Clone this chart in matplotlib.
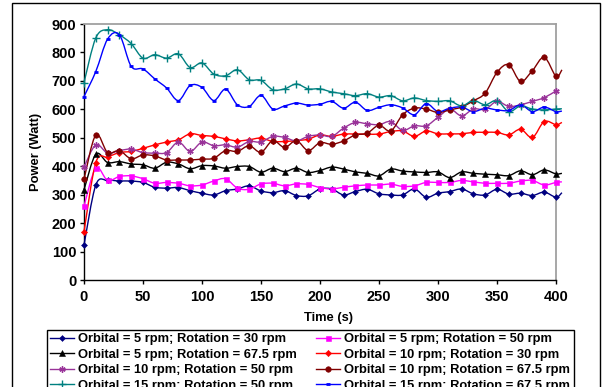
import numpy as np
import matplotlib
matplotlib.use('Agg')
import matplotlib.pyplot as plt
from matplotlib.path import Path
from matplotlib.patches import PathPatch, Rectangle
from matplotlib.lines import Line2D

plt.rcParams['font.family'] = ['Liberation Sans', 'DejaVu Sans']
plt.rcParams['font.weight'] = 'bold'

# ---------------- data ----------------
time_s = [0, 10, 20, 30, 40, 50, 60, 70, 80, 90, 100, 110, 120, 130, 140, 150, 160, 170, 180, 190,
          200, 210, 220, 230, 240, 250, 260, 270, 280, 290, 300, 310, 320, 330, 340, 350, 360, 370,
          380, 390, 400, 405]

o5_r30 = [123, 334, 350, 348, 348, 343, 326, 323, 325, 314, 305, 299, 314, 320, 331, 313, 307, 314, 297, 296,
          320, 320, 299, 311, 319, 303, 299, 299, 320, 291, 305, 311, 320, 303, 299, 319, 302, 305,
          297, 309, 291, 307]
o5_r50 = [260, 393, 350, 364, 366, 356, 340, 343, 340, 331, 334, 348, 356, 323, 319, 338, 340, 331, 338, 336,
          325, 320, 326, 331, 334, 334, 337, 329, 331, 343, 343, 343, 350, 345, 340, 340, 340, 348,
          350, 334, 343, 345]
o5_r675 = [317, 442, 413, 416, 408, 405, 393, 414, 408, 391, 402, 401, 393, 399, 399, 379, 393, 381, 393, 378,
           385, 397, 390, 380, 375, 366, 390, 383, 380, 378, 380, 360, 380, 375, 372, 370, 367, 384,
           370, 387, 373, 375]
o10_r30 = [170, 413, 432, 448, 452, 463, 475, 485, 493, 514, 508, 505, 496, 489, 493, 499, 487, 487, 490, 495,
           510, 505, 513, 513, 513, 513, 522, 524, 505, 524, 514, 514, 514, 519, 519, 519, 510, 530,
           501, 557, 546, 554]
o10_r50 = [397, 475, 446, 455, 460, 448, 446, 448, 485, 452, 485, 472, 475, 467, 487, 485, 505, 501, 489, 505,
           510, 505, 534, 554, 549, 546, 557, 526, 542, 542, 572, 601, 577, 601, 600, 628, 610, 616,
           628, 641, 665, np.nan]
o10_r675 = [354, 510, 448, 455, 426, 440, 436, 422, 422, 422, 425, 428, 455, 452, 472, 449, 490, 466, 490, 455,
            483, 477, 489, 510, 516, 544, 524, 581, 604, 601, 589, 598, 608, 630, 657, 730, 757, 698,
            736, 783, 716, 739]
o15_r50 = [694, 851, 880, 862, 831, 780, 792, 780, 795, 747, 763, 724, 718, 739, 704, 702, 669, 672, 689, 672,
           672, 661, 655, 648, 655, 643, 648, 630, 640, 631, 628, 630, 612, 631, 616, 631, 592, 612,
           601, 598, 601, 602]
o15_r675 = [645, 733, 847, 862, 751, 742, 707, 675, 631, 684, 677, 631, 671, 616, 610, 649, 601, 612, 622, 615,
            618, 628, 604, 625, 596, 607, 616, 605, 581, 620, 592, 604, 608, 592, 604, 598, 596, 616,
            592, 608, 592, 594]

labels = ["Orbital = 5 rpm; Rotation = 30 rpm", "Orbital = 5 rpm; Rotation = 50 rpm",
          "Orbital = 5 rpm; Rotation = 67.5 rpm", "Orbital = 10 rpm; Rotation = 30 rpm",
          "Orbital = 10 rpm; Rotation = 50 rpm", "Orbital = 10 rpm; Rotation = 67.5 rpm",
          "Orbital = 15 rpm; Rotation = 50 rpm", "Orbital = 15 rpm; Rotation = 67.5 rpm"]

x_ticks = [0, 50, 100, 150, 200, 250, 300, 350, 400]
y_ticks = [0, 100, 200, 300, 400, 500, 600, 700, 800, 900]

series = [o5_r30, o5_r50, o5_r675, o10_r30, o10_r50, o10_r675, o15_r50, o15_r675]
styles = [
    dict(color='#000080', marker='D', ms=3.0, mew=0.4),
    dict(color='#FF00FF', marker='s', ms=3.6, mew=0.4),
    dict(color='#000000', marker='^', ms=4.2, mew=0.4),
    dict(color='#FF0000', marker='D', ms=3.2, mew=0.4),
    dict(color='#993399', marker=(6, 2, 0), ms=4.5, mew=1.0),
    dict(color='#800000', marker='o', ms=4.0, mew=0.4),
    dict(color='#008080', marker='+', ms=6, mew=1.0),
    dict(color='#0000FF', marker='_', ms=3.0, mew=2.0),
]


def smooth_path(x, y):
    P = np.array([(a, b) for a, b in zip(x, y) if not np.isnan(b)], float)
    verts = [P[0]]
    codes = [Path.MOVETO]
    n = len(P)
    for i in range(n - 1):
        p0 = P[i - 1] if i > 0 else P[i]
        p1 = P[i]
        p2 = P[i + 1]
        p3 = P[i + 2] if i + 2 < n else P[i + 1]
        verts += [p1 + (p2 - p0) / 6.0, p2 - (p3 - p1) / 6.0, p2]
        codes += [Path.CURVE4] * 3
    return Path(verts, codes)


fig = plt.figure(figsize=(6.05, 3.87), dpi=100)
ax = fig.add_axes([84 / 605, 1 - 280 / 387, 472 / 605, 256 / 387])

handles = []
t = np.array(time_s, float)
for vals, st, lab in zip(series, styles, labels):
    v = np.array(vals, float)
    patch = PathPatch(smooth_path(t, v), facecolor='none', edgecolor=st['color'], lw=1.0,
                      clip_on=False, zorder=3)
    ax.add_patch(patch)
    ax.plot(t[:41], v[:41], ls='none', marker=st['marker'], ms=st['ms'], mew=st['mew'],
            color=st['color'], mec=st['color'], mfc=st['color'], clip_on=False, zorder=4)
    handles.append(Line2D([], [], color=st['color'], lw=1.0, marker=st['marker'], ms=st['ms'],
                          mew=st['mew'], mfc=st['color'], mec=st['color']))

ax.set_xlim(0, 400)
ax.set_ylim(0, 900)
ax.set_xticks(x_ticks)
ax.set_yticks(y_ticks)
ax.tick_params(axis='both', labelsize=10.5, width=1.0, direction='out', colors='black')
ax.tick_params(axis='x', length=3, pad=4.5)
ax.tick_params(axis='y', length=3, pad=2.5)
for lab_ in ax.get_xticklabels() + ax.get_yticklabels():
    lab_.set_fontweight('bold')

for s in ['left', 'bottom']:
    ax.spines[s].set_color('black')
    ax.spines[s].set_linewidth(1.0)
for s in ['top', 'right']:
    ax.spines[s].set_color('#A0A0A0')
    ax.spines[s].set_linewidth(1.3)

ax.set_ylabel('Power (Watt)', fontsize=9.3, fontweight='bold')
ax.yaxis.set_label_coords(-0.088, 0.5)
ax.set_xlabel('Time (s)', fontsize=9.3, fontweight='bold')
ax.xaxis.set_label_coords(0.517, -0.125)

# legend filled row by row (two columns)
order = [0, 2, 4, 6, 1, 3, 5, 7]
leg = fig.legend([handles[i] for i in order], [labels[i] for i in order], loc='upper left',
                 bbox_to_anchor=(46.5 / 605, 1 - 329.5 / 387),
                 ncol=2, frameon=True, fancybox=False, edgecolor='black', framealpha=1,
                 borderaxespad=0, prop=dict(size=9.3, weight='bold'), handlelength=1.85,
                 handletextpad=0.3, columnspacing=1.5, labelspacing=0.27, borderpad=0.3,
                 numpoints=1)
leg.get_frame().set_linewidth(1.0)

fig.add_artist(Rectangle((12 / 605, -0.05), 588 / 605, 1 - 3 / 387 + 0.05,
                         transform=fig.transFigure, fill=False, ec='black', lw=1.0))

fig.savefig('out.png', dpi=100)
